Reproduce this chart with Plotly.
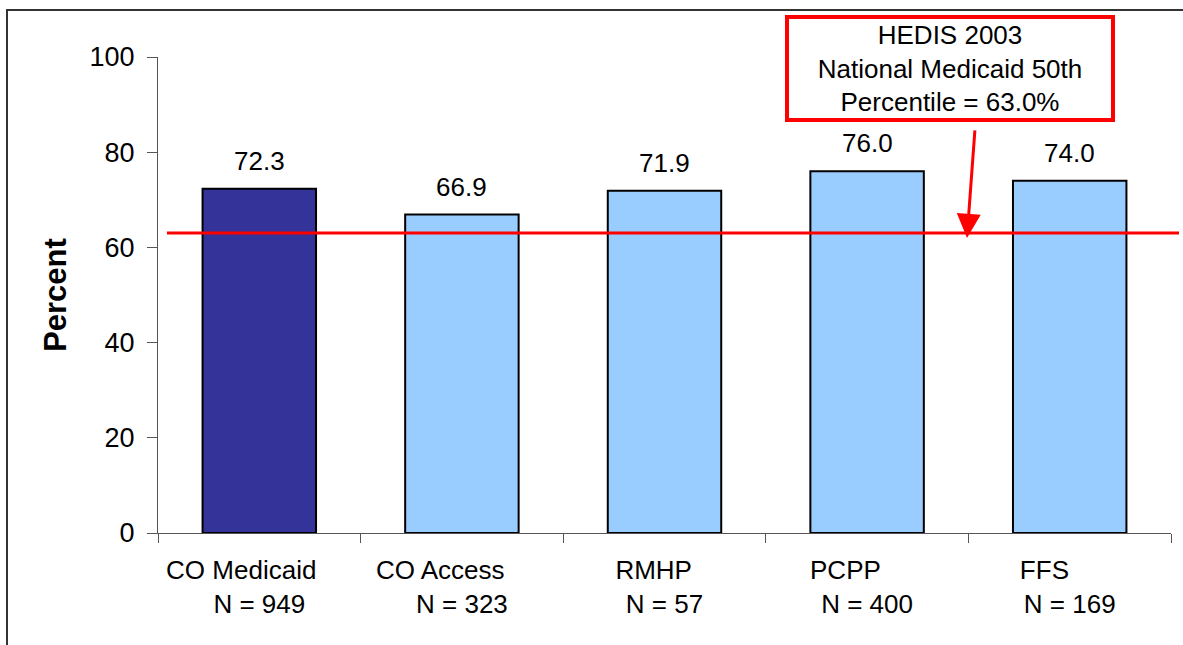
import plotly.graph_objects as go

# Data
plans = ["CO Medicaid", "CO Access", "RMHP", "PCPP", "FFS"]
sample_sizes = [949, 323, 57, 400, 169]
rates = [72.3, 66.9, 71.9, 76.0, 74.0]
benchmark = 63.0
benchmark_text = ["HEDIS 2003", "National Medicaid 50th", "Percentile = 63.0%"]
y_ticks = [0, 20, 40, 60, 80, 100]

# Styling
FONT = "Liberation Sans, Arial, sans-serif"
bar_colors = ["#333399"] + ["#99CCFF"] * (len(plans) - 1)
# trailing non-breaking spaces nudge the plan name left of the N line
first_line_pad = [5, 6, 3, 6, 7]

tick_text = [
    f"{p}{chr(160) * pad}<br>N = {n}"
    for p, n, pad in zip(plans, sample_sizes, first_line_pad)
]

W, H = 1183, 645
ML, MR, MT, MB = 158, 12, 57, 112
plot_w = W - ML - MR
plot_h = H - MT - MB


def px_to_paper_x(px):
    return (px - ML) / plot_w


def px_to_paper_y(py):
    return (H - MB - py) / plot_h


fig = go.Figure()
fig.add_trace(
    go.Bar(
        x=plans,
        y=rates,
        width=0.56,
        marker=dict(color=bar_colors, line=dict(color="black", width=2)),
        hoverinfo="x+y",
    )
)

annotations = []
for p, v in zip(plans, rates):
    annotations.append(
        dict(
            x=p, y=v, xref="x", yref="y",
            text=f"{v:.1f}", showarrow=False,
            yanchor="bottom", yshift=11,
            font=dict(family=FONT, size=26, color="black"),
        )
    )

# benchmark callout box
annotations.append(
    dict(
        x=px_to_paper_x(950), y=px_to_paper_y(68.5),
        xref="paper", yref="paper",
        xanchor="center", yanchor="middle",
        text="<br>".join(benchmark_text),
        showarrow=False,
        font=dict(family=FONT, size=26, color="black"),
        bordercolor="#FF0000", borderwidth=4, borderpad=2,
        bgcolor="white", width=318, height=95, align="center",
    )
)
# arrow from callout down to the benchmark line
annotations.append(
    dict(
        x=px_to_paper_x(967), y=benchmark - 1.0,
        xref="paper", yref="y",
        text="", showarrow=True,
        ax=8, ay=-109,
        arrowhead=2, arrowsize=1.6, arrowwidth=3, arrowcolor="#FF0000",
        standoff=0,
    )
)

shapes = [
    # benchmark line
    dict(
        type="line", xref="paper", yref="y",
        x0=px_to_paper_x(167), x1=px_to_paper_x(1179),
        y0=benchmark, y1=benchmark,
        line=dict(color="#FF0000", width=3),
        layer="above",
    ),
    # chart frame (left and top edges)
    dict(
        type="path", xref="paper", yref="paper",
        path=(
            f"M {px_to_paper_x(7)},{px_to_paper_y(H + 20)} "
            f"L {px_to_paper_x(7)},{px_to_paper_y(10)} "
            f"L {px_to_paper_x(W + 20)},{px_to_paper_y(10)}"
        ),
        line=dict(color="#333333", width=2),
    ),
]

fig.update_layout(
    width=W, height=H,
    margin=dict(l=ML, r=MR, t=MT, b=MB, pad=0),
    paper_bgcolor="white", plot_bgcolor="white",
    showlegend=False,
    bargap=0.44,
    font=dict(family=FONT, size=26, color="black"),
    annotations=annotations,
    shapes=shapes,
    xaxis=dict(
        tickmode="array", tickvals=plans, ticktext=tick_text,
        tickson="boundaries",
        ticks="outside", ticklen=9, tickcolor="#555555", tickwidth=1,
        showline=True, linecolor="#555555", linewidth=1,
        showgrid=False, zeroline=False,
        tickfont=dict(family=FONT, size=26, color="black"),
        ticklabelstandoff=14,
    ),
    yaxis=dict(
        range=[0, 100], tickvals=y_ticks,
        ticks="outside", ticklen=10, tickcolor="#555555", tickwidth=1,
        showline=True, linecolor="#555555", linewidth=1,
        showgrid=False, zeroline=False,
        tickfont=dict(family=FONT, size=27, color="black"),
        ticklabelstandoff=7,
        title=dict(
            text="<b>Percent</b>", standoff=13,
            font=dict(family=FONT, size=31, color="black"),
        ),
    ),
)

fig.write_html("out.html")
